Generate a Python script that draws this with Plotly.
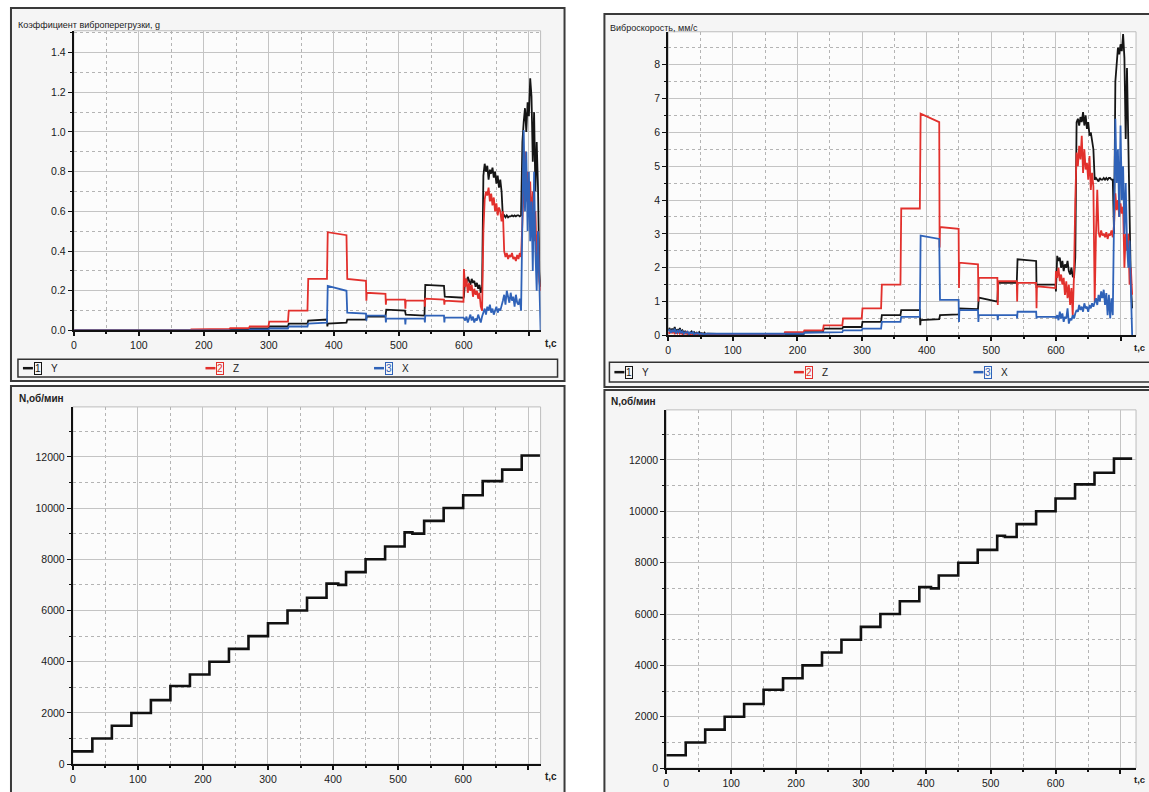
import plotly.graph_objects as go

W, H = 1149, 792

# ---------------- DATA ----------------
STEP_T = [0, 30, 60, 90, 120, 150, 180, 210, 240, 270, 300, 330, 360, 390, 420, 450, 480, 510, 540, 570]
LATE_T = list(range(600, 720, 2))  # 600..718

# Left panel: vibration overload coefficient, g
G_Y_A = [0, 0, 0, 0, 0, 0, 0, 0.002, 0.005, 0.01, 0.02, 0.035, 0.05, 0.035, 0.055, 0.07, 0.105, 0.08, 0.23, 0.17]
G_Y_B = [0, 0, 0, 0, 0, 0, 0, 0.002, 0.005, 0.01, 0.02, 0.035, 0.055, 0.04, 0.055, 0.07, 0.1, 0.075, 0.225, 0.165]
G_Y_TR = [None] * 13 + [0.02, None, None, None, None, None, None]
G_Y_LATE = [0.17, 0.26, 0.24, 0.27, 0.25, 0.23, 0.26, 0.24, 0.25, 0.22, 0.24, 0.21, 0.23, 0.19, 0.22,
            0.78, 0.84, 0.80, 0.83, 0.76, 0.81, 0.79, 0.82, 0.77, 0.80, 0.74, 0.78, 0.72, 0.76, 0.70,
            0.57, 0.58, 0.57, 0.58, 0.57, 0.575, 0.575, 0.58, 0.575, 0.58, 0.575, 0.58, 0.58, 0.575, 0.58,
            0.95, 1.05, 1.12, 1.0, 1.15, 1.08, 1.27, 1.18, 0.85, 1.1, 0.70, 0.95, 0.72, 0.3, 0.22]

G_Z_A = [0, 0, 0, 0, 0, 0, 0.005, 0.008, 0.012, 0.02, 0.045, 0.1, 0.26, 0.495, 0.26, 0.19, 0.155, 0.15, 0.16, 0.15]
G_Z_B = [0, 0, 0, 0, 0, 0, 0.005, 0.008, 0.012, 0.02, 0.045, 0.1, 0.26, 0.48, 0.25, 0.185, 0.155, 0.15, 0.155, 0.145]
G_Z_TR = [None] * 15 + [0.15, 0.13, 0.11, 0.12, 0.13]
G_Z_LATE = [0.31, 0.22, 0.26, 0.19, 0.24, 0.2, 0.23, 0.17, 0.21, 0.18, 0.2, 0.16, 0.19, 0.12, 0.1,
            0.5, 0.66, 0.70, 0.68, 0.72, 0.65, 0.69, 0.63, 0.67, 0.6, 0.64, 0.58, 0.62, 0.6, 0.55,
            0.6, 0.4, 0.37, 0.39, 0.36, 0.38, 0.37, 0.39, 0.36, 0.37, 0.35, 0.38, 0.36, 0.39, 0.37,
            0.55, 0.7, 0.9, 0.65, 0.8, 0.6, 0.75, 0.55, 0.7, 0.45, 0.6, 0.35, 0.5, 0.25, 0.2]

G_X_A = [0, 0, 0, 0, 0, 0, 0, 0, 0, 0.005, 0.01, 0.02, 0.035, 0.225, 0.09, 0.075, 0.06, 0.06, 0.075, 0.065]
G_X_B = [0, 0, 0, 0, 0, 0, 0, 0, 0, 0.005, 0.01, 0.02, 0.04, 0.2, 0.085, 0.075, 0.06, 0.06, 0.075, 0.065]
G_X_TR = [None] * 15 + [0.05, 0.04, 0.03, 0.04, 0.04]
G_X_LATE = [0.06, 0.05, 0.07, 0.04, 0.06, 0.08, 0.05, 0.07, 0.04, 0.06, 0.05, 0.08, 0.06, 0.04, 0.07,
            0.09, 0.11, 0.08, 0.12, 0.1, 0.13, 0.09, 0.11, 0.08, 0.1, 0.12, 0.09, 0.11, 0.1, 0.12,
            0.15, 0.18, 0.13, 0.2, 0.16, 0.14, 0.19, 0.15, 0.17, 0.12, 0.18, 0.14, 0.13, 0.16, 0.1,
            0.7, 1.01, 0.6, 0.9, 0.5, 0.8, 0.45, 0.65, 0.3, 0.8, 0.4, 0.2, 0.5, 0.15, 0.0]

# Right panel: vibration velocity, mm/s
EARLY_T = list(range(0, 60, 2))
V_Y_EARLY = [0.15, 0.22, 0.1, 0.2, 0.12, 0.25, 0.08, 0.18, 0.12, 0.22, 0.1, 0.15, 0.08, 0.12, 0.06,
             0.1, 0.05, 0.08, 0.12, 0.05, 0.1, 0.06, 0.08, 0.04, 0.1, 0.05, 0.07, 0.03, 0.08, 0.04]
V_Z_EARLY = [0.1, 0.05, 0.15, 0.08, 0.12, 0.04, 0.1, 0.06, 0.14, 0.05, 0.09, 0.03, 0.08, 0.05, 0.1,
             0.04, 0.07, 0.02, 0.06, 0.04, 0.05, 0.02, 0.06, 0.03, 0.04, 0.02, 0.05, 0.03, 0.04, 0.02]
V_X_EARLY = [0.12, 0.18, 0.08, 0.15, 0.1, 0.2, 0.06, 0.14, 0.09, 0.17, 0.07, 0.12, 0.05, 0.1, 0.08,
             0.11, 0.04, 0.09, 0.06, 0.1, 0.03, 0.07, 0.05, 0.08, 0.03, 0.06, 0.04, 0.05, 0.02, 0.05]

V_Y_A = [0.05, 0.03, 0.02, 0.02, 0.03, 0.1, 0.2, 0.25, 0.4, 0.6, 0.75, 0.45, 0.6, 0.8, 1.12, 1.55, 2.25, 1.5]
V_Y_B = [0.04, 0.03, 0.02, 0.02, 0.03, 0.1, 0.2, 0.25, 0.4, 0.6, 0.75, 0.48, 0.62, 0.78, 1.0, 1.55, 2.2, 1.5]
V_Y_TR = [None] * 11 + [0.3, None, None, None, None, None, 1.4]
V_Y_LATE = [1.3, 2.35, 2.2, 2.3, 2.0, 2.2, 1.9, 2.1, 2.0, 2.2, 1.9, 1.8, 2.0, 1.75, 1.7,
            2.3, 6.3, 6.4, 6.2, 6.45, 6.3, 6.6, 6.2, 6.5, 6.1, 6.3, 5.9, 6.0, 5.7, 5.5,
            4.6, 4.65, 4.6, 4.55, 4.65, 4.6, 4.6, 4.65, 4.6, 4.65, 4.6, 4.65, 4.65, 4.6, 4.6,
            3.0, 7.5, 8.0, 8.5, 8.3, 8.6, 8.4, 8.9, 8.2, 5.8, 7.9, 6.0, 3.0, 1.5, 0.8]

V_Z_A = [0.03, 0.02, 0.02, 0.03, 0.1, 0.15, 0.3, 0.5, 0.8, 1.5, 3.75, 6.55, 3.2, 2.15, 1.7, 1.6, 1.55, 1.45]
V_Z_B = [0.03, 0.02, 0.02, 0.03, 0.1, 0.15, 0.3, 0.5, 0.8, 1.5, 3.75, 6.3, 3.15, 2.1, 1.7, 1.6, 1.55, 1.4]
V_Z_TR = [None] * 12 + [2.6, 1.4, 1.0, 0.9, 1.0, 0.8]
V_Z_LATE = [1.9, 1.7, 2.0, 1.6, 1.8, 1.5, 1.7, 1.2, 1.6, 1.1, 1.5, 0.9, 1.4, 0.6, 1.8,
            4.0, 5.4, 5.0, 5.6, 5.2, 5.9, 4.8, 5.5, 4.9, 5.1, 4.6, 5.3, 4.3, 4.8, 4.4,
            1.0, 3.0, 4.3, 3.05, 2.9, 3.1, 2.95, 3.0, 2.9, 3.05, 2.85, 3.0, 2.95, 3.1, 2.9,
            3.3, 4.2, 3.7, 4.0, 3.5, 3.9, 3.6, 3.8, 2.0, 3.0, 2.5, 3.0, 1.5, 2.0, 1.2]

V_X_A = [0.05, 0.03, 0.03, 0.03, 0.05, 0.08, 0.1, 0.15, 0.2, 0.4, 0.55, 2.95, 1.05, 0.75, 0.6, 0.6, 0.7, 0.55]
V_X_B = [0.05, 0.03, 0.03, 0.03, 0.05, 0.08, 0.1, 0.15, 0.2, 0.4, 0.55, 2.85, 1.05, 0.75, 0.6, 0.6, 0.7, 0.55]
V_X_TR = [None] * 13 + [0.4, 0.4, 0.45, 0.5, 0.5]
V_X_LATE = [0.5, 0.6, 0.45, 0.7, 0.5, 0.65, 0.4, 0.55, 0.5, 0.8, 0.35, 0.5, 0.45, 0.6, 0.5,
            0.65, 0.75, 0.7, 0.9, 0.75, 0.85, 0.7, 0.95, 0.8, 0.85, 0.7, 0.9, 0.8, 0.95, 0.85,
            1.0, 1.1, 0.9, 1.2, 1.0, 1.3, 1.1, 1.35, 0.9, 1.25, 0.6, 1.2, 0.5, 1.1, 0.6,
            3.0, 6.4, 4.5, 5.5, 3.5, 6.2, 4.0, 5.0, 3.0, 4.5, 2.7, 2.0, 2.8, 1.0, 0.0]

# Rotor speed, rpm (same test program on both sides)
N_T = [0, 30, 60, 90, 120, 150, 180, 210, 240, 270, 300, 330, 360, 390, 408, 420, 450, 480,
       510, 522, 540, 570, 600, 630, 642, 660, 690, 718]
N_V = [500, 1000, 1500, 2000, 2500, 3050, 3500, 4000, 4500, 5000, 5500, 6000, 6500, 7050, 7000,
       7500, 8000, 8500, 9050, 9000, 9500, 10000, 10500, 11050, 11050, 11500, 12050, 12050]

# tick labels
T_TICKS = [0, 100, 200, 300, 400, 500, 600, 700]
T_LABELS = ["0", "100", "200", "300", "400", "500", "600", ""]

SERIES_NAMES = ["Y", "Z", "X"]
SERIES_COLORS = ["#151515", "#e2302c", "#2f62b8"]


def build(step_t, a, b, tr, early_t, early_v, late_v):
    t, y = list(early_t), list(early_v)
    for i, t0 in enumerate(step_t):
        if tr[i] is not None:
            t.append(t0)
            y.append(tr[i])
        t += [t0 + 0.6, t0 + 29.4]
        y += [a[i], b[i]]
    t += LATE_T
    y += late_v
    return t, y


left = [build(STEP_T, G_Y_A, G_Y_B, G_Y_TR, [], [], G_Y_LATE),
        build(STEP_T, G_Z_A, G_Z_B, G_Z_TR, [], [], G_Z_LATE),
        build(STEP_T, G_X_A, G_X_B, G_X_TR, [], [], G_X_LATE)]
right = [build(STEP_T[2:], V_Y_A, V_Y_B, V_Y_TR, EARLY_T, V_Y_EARLY, V_Y_LATE),
         build(STEP_T[2:], V_Z_A, V_Z_B, V_Z_TR, EARLY_T, V_Z_EARLY, V_Z_LATE),
         build(STEP_T[2:], V_X_A, V_X_B, V_X_TR, EARLY_T, V_X_EARLY, V_X_LATE)]

# ---------------- FIGURE ----------------
fig = go.Figure()
for (t, y), name, c in zip(left, SERIES_NAMES, SERIES_COLORS):
    fig.add_trace(go.Scatter(x=t, y=y, mode="lines", name=name, line=dict(color=c, width=1.8),
                             xaxis="x", yaxis="y", showlegend=False))
for (t, y), name, c in zip(right, SERIES_NAMES, SERIES_COLORS):
    fig.add_trace(go.Scatter(x=t, y=y, mode="lines", name=name, line=dict(color=c, width=1.8),
                             xaxis="x2", yaxis="y2", showlegend=False))
fig.add_trace(go.Scatter(x=N_T, y=N_V, mode="lines", line=dict(color="#111", width=2.6, shape="hv"),
                         xaxis="x3", yaxis="y3", showlegend=False))
fig.add_trace(go.Scatter(x=N_T, y=N_V, mode="lines", line=dict(color="#111", width=2.6, shape="hv"),
                         xaxis="x4", yaxis="y4", showlegend=False))


def px(x):
    return x / W


def py(y):
    return 1 - y / H


FONT = "Liberation Sans, Arial, sans-serif"
TICKFONT = dict(family=FONT, size=10.5, color="#1a1a1a")
GRID = "#c4c4c4"
MGRID = "#b4b4b4"


def xax(dom, rng, anchor):
    return dict(domain=[px(dom[0]), px(dom[1])], range=rng, anchor=anchor,
                tickmode="array", tickvals=T_TICKS, ticktext=T_LABELS,
                showline=True, linecolor="#111", linewidth=2, ticks="outside", ticklen=4,
                tickcolor="#111", tickwidth=1.5, showgrid=True, gridcolor=GRID, gridwidth=1,
                zeroline=False, tickfont=TICKFONT, fixedrange=True,
                minor=dict(dtick=50, tick0=0, ticks="outside", ticklen=2, tickcolor="#111",
                           showgrid=True, gridcolor=MGRID, griddash="dot", gridwidth=1))


def yax(dom, rng, anchor, dtick, mdtick, fmt):
    return dict(domain=[py(dom[1]), py(dom[0])], range=rng, anchor=anchor, dtick=dtick, tick0=0,
                tickformat=fmt,
                showline=True, linecolor="#111", linewidth=2, ticks="outside", ticklen=4,
                tickcolor="#111", tickwidth=1.2, showgrid=True, gridcolor=GRID, gridwidth=1,
                zeroline=False, tickfont=TICKFONT, fixedrange=True,
                minor=dict(dtick=mdtick, tick0=0, ticks="outside", ticklen=2, tickcolor="#111",
                           showgrid=True, gridcolor=MGRID, griddash="dot", gridwidth=1))


fig.update_layout(
    width=W, height=H, margin=dict(l=0, r=0, t=0, b=0),
    paper_bgcolor="white", plot_bgcolor="white",
    font=dict(family=FONT, color="#222"),
    xaxis=xax((71, 539), [0, 718], "y"),
    yaxis=yax((31, 333), [0, 1.51], "x", 0.2, 0.1, ".1f"),
    xaxis2=xax((667, 1136), [0, 724], "y2"),
    yaxis2=yax((32, 338), [0, 8.97], "x2", 1, 0.5, "d"),
    xaxis3=xax((70, 539), [0, 719], "y3"),
    yaxis3=yax((410, 770), [0, 13950], "x3", 2000, 1000, "d"),
    xaxis4=xax((665, 1136), [0, 724], "y4"),
    yaxis4=yax((413, 774), [0, 13950], "x4", 2000, 1000, "d"),
)

shapes = []


def rect(x0, y0, x1, y1, color="#3a3a3a", width=2, fill=None, layer="below"):
    s = dict(type="rect", xref="paper", yref="paper", x0=px(x0), x1=px(x1), y0=py(y1), y1=py(y0),
             line=dict(color=color, width=width), layer=layer)
    if fill:
        s["fillcolor"] = fill
    shapes.append(s)


# outer panel frames
rect(8, 8, 563, 384, fill="#f5f5f5")
rect(8, 389, 563, 800, fill="#f5f5f5")
rect(603, 14, 1160, 390, fill="#f5f5f5")
rect(603, 393, 1160, 800, fill="#f5f5f5")
# plot areas (white with light border)
for xr, yr in [("x", "y"), ("x2", "y2"), ("x3", "y3"), ("x4", "y4")]:
    shapes.append(dict(type="rect", xref=xr + " domain", yref=yr + " domain", x0=0, x1=1, y0=0, y1=1,
                       line=dict(color="#bdbdbd", width=1), fillcolor="#fcfcfc", layer="below"))
# legend boxes
rect(15, 362, 556, 380, color="#333", width=1.5, fill="#f5f5f5", layer="above")
rect(608, 365, 1160, 385, color="#333", width=1.5, fill="#f5f5f5", layer="above")

annotations = []


def text(x, y, s, size=10, bold=False, color="#222", xanchor="left", **kw):
    annotations.append(dict(xref="paper", yref="paper", x=px(x), y=py(y), text=("<b>%s</b>" % s) if bold else s,
                            showarrow=False, xanchor=xanchor, yanchor="middle",
                            font=dict(family=FONT, size=size, color=color), **kw))


# legend entries
for yc, xs in [(371, [20, 203, 372]), (375, [613, 793, 973])]:
    for x0, name, c in zip(xs, SERIES_NAMES, SERIES_COLORS):
        shapes.append(dict(type="line", xref="paper", yref="paper", x0=px(x0), x1=px(x0 + 10),
                           y0=py(yc), y1=py(yc), line=dict(color=c, width=2.5), layer="above"))
        idx = SERIES_NAMES.index(name) + 1
        text(x0 + 11, yc, str(idx), size=10, color=c, bordercolor=c, borderwidth=1, borderpad=0)
        text(x0 + 26, yc, name, size=10, color="#222")

# axis titles
text(13, 25, "Коэффициент виброперегрузки, g", size=9)
text(607, 28, "Виброскорость, мм/с", size=9)
text(14, 402, "N,об/мин", size=10, bold=True)
text(608, 405, "N,об/мин", size=10, bold=True)
text(541, 346, "t,c", size=10, bold=True)
text(1147, 350, "t,c", size=9.5, bold=True, xanchor="right")
text(541, 782, "t,c", size=10, bold=True)
text(1147, 785, "t,c", size=9.5, bold=True, xanchor="right")

fig.update_layout(shapes=shapes, annotations=annotations)
fig.write_html("out.html", config={"displayModeBar": False},
               post_script="document.body.style.margin='0';document.body.style.overflow='hidden';")
